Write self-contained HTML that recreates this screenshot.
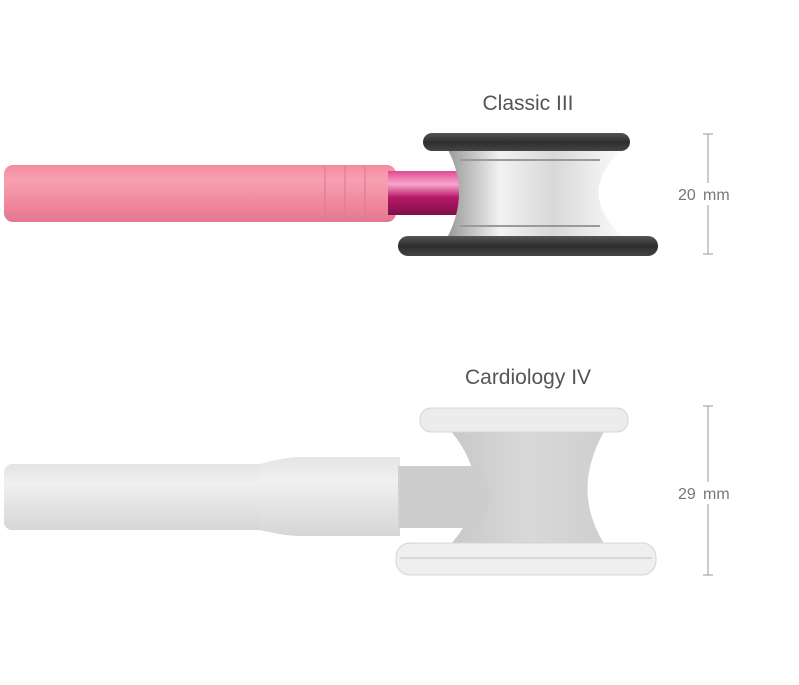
<!DOCTYPE html>
<html><head><style>
body{margin:0;background:#fff;}
svg{display:block;font-family:"Liberation Sans",sans-serif;}
</style></head><body>
<svg width="799" height="685" viewBox="0 0 799 685">
<defs>
<linearGradient id="pink" x1="0" y1="0" x2="0" y2="1">
<stop offset="0" stop-color="#f48aa0"/><stop offset="0.25" stop-color="#f7a0b2"/><stop offset="0.7" stop-color="#f0879c"/><stop offset="1" stop-color="#e27890"/></linearGradient>
<linearGradient id="mag" x1="0" y1="0" x2="0" y2="1">
<stop offset="0" stop-color="#e04a90"/><stop offset="0.3" stop-color="#f7a6cc"/><stop offset="0.6" stop-color="#b8186a"/><stop offset="1" stop-color="#7d1048"/></linearGradient>
<linearGradient id="silver" x1="0" y1="0" x2="1" y2="0">
<stop offset="0" stop-color="#9a9a9a"/><stop offset="0.3" stop-color="#f2f2f2"/><stop offset="0.6" stop-color="#d8d8d8"/><stop offset="1" stop-color="#fafafa"/></linearGradient>
<linearGradient id="rim" x1="0" y1="0" x2="0" y2="1">
<stop offset="0" stop-color="#555"/><stop offset="0.5" stop-color="#2e2e2e"/><stop offset="1" stop-color="#444"/></linearGradient>
<linearGradient id="gray" x1="0" y1="0" x2="0" y2="1">
<stop offset="0" stop-color="#e4e4e4"/><stop offset="0.3" stop-color="#f0f0f0"/><stop offset="1" stop-color="#d6d6d6"/></linearGradient>
<linearGradient id="gbody" x1="0" y1="0" x2="1" y2="0">
<stop offset="0" stop-color="#c8c8c8"/><stop offset="0.5" stop-color="#d8d8d8"/><stop offset="1" stop-color="#cfcfcf"/></linearGradient>
</defs>

<text x="528" y="110" font-size="21" fill="#555" text-anchor="middle">Classic III</text>
<rect x="4" y="165" width="392" height="57" rx="9" fill="url(#pink)"/>
<path d="M325 166 v55 M345 166 v55 M365 166 v55" stroke="#e07c92" stroke-width="2" opacity="0.6"/>
<rect x="388" y="171" width="80" height="44" fill="url(#mag)"/>
<path d="M448 150 H622 Q575 192 622 236 H448 Q470 192 448 150Z" fill="url(#silver)"/>
<path d="M460 160 H600 M460 226 H600" stroke="#9a9a9a" stroke-width="2"/>
<rect x="423" y="133" width="207" height="18" rx="9" fill="url(#rim)"/>
<rect x="398" y="236" width="260" height="20" rx="10" fill="url(#rim)"/>
<path d="M708 134 V254 M703 134 H713 M703 254 H713" stroke="#999" stroke-width="1"/>
<rect x="675" y="183" width="66" height="22" fill="#fff"/>
<text x="678" y="200" font-size="16" fill="#777">20</text>
<text x="703" y="200" font-size="16" fill="#777">mm</text>

<text x="528" y="384" font-size="21" fill="#555" text-anchor="middle">Cardiology IV</text>
<rect x="4" y="464" width="300" height="66" rx="8" fill="url(#gray)"/>
<path d="M260 464 Q285 457 300 457 H400 V536 H300 Q285 536 260 530Z" fill="url(#gray)"/>
<rect x="398" y="466" width="90" height="62" fill="#d0d0d0"/>
<path d="M450 430 H605 Q570 490 605 545 H450 Q500 490 450 430Z" fill="url(#gbody)"/>
<path d="M400 466 H478 Q500 497 478 528 H400Z" fill="#cdcdcd"/>
<rect x="420" y="408" width="208" height="24" rx="11" fill="#ececec" stroke="#d4d4d4"/>
<rect x="396" y="543" width="260" height="32" rx="14" fill="#efefef" stroke="#d4d4d4"/>
<path d="M400 558 H652" stroke="#d0d0d0" stroke-width="1.5"/>
<path d="M708 406 V575 M703 406 H713 M703 575 H713" stroke="#999" stroke-width="1"/>
<rect x="675" y="482" width="66" height="22" fill="#fff"/>
<text x="678" y="499" font-size="16" fill="#777">29</text>
<text x="703" y="499" font-size="16" fill="#777">mm</text>
</svg>
</body></html>
